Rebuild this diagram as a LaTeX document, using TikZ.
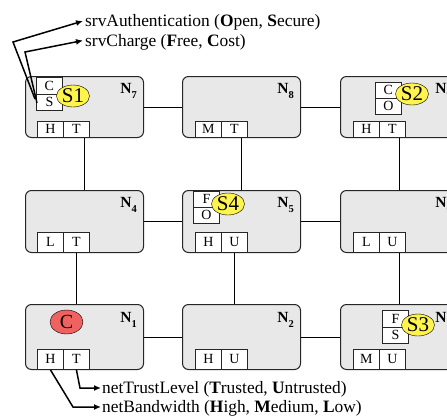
\documentclass[tikz,border=0pt]{standalone}
\usepackage{fontspec}
\setmainfont{Liberation Serif}
\usetikzlibrary{arrows.meta,shapes.geometric,calc}
\definecolor{nodegray}{HTML}{E8E8E8}
\definecolor{svcyellow}{HTML}{FFF34D}
\definecolor{clired}{HTML}{F0625F}
\begin{document}
\begin{tikzpicture}[x=1pt,y=-1pt,
 netnode/.style={draw=black!85, fill=nodegray, rounded corners=6pt, minimum width=118pt, inner sep=0pt, anchor=north west, line width=1pt},
 attr/.style={draw=black!85, fill=white, minimum width=26pt, inner sep=0pt, anchor=north west, font=\fontsize{14}{14}\selectfont, line width=0.8pt},
 svc/.style={ellipse, draw=black, fill=svcyellow, minimum width=33pt, minimum height=22pt, inner sep=0pt, font=\fontsize{21}{21}\selectfont},
 nlabel/.style={anchor=base east, inner sep=0pt, font=\fontsize{15.5}{15.5}\selectfont\bfseries},
 anno/.style={anchor=base west, inner sep=0pt, font=\fontsize{17.4}{17.4}\selectfont},
 link/.style={line width=0.9pt},
 arr/.style={line width=1.5pt, -{Latex[length=7pt,width=6pt]}}
]
\clip (0,0) rectangle (447,415);
% network nodes
\node[netnode, minimum height=61pt] (n7) at (25,76) {};
\node[netnode, minimum height=61pt] (n8) at (182,76) {};
\node[netnode, minimum height=61pt] (n9) at (340,76) {};
\node[netnode, minimum height=62pt] (n4) at (25,190) {};
\node[netnode, minimum height=62pt] (n5) at (182,190) {};
\node[netnode, minimum height=62pt] (n6) at (340,190) {};
\node[netnode, minimum height=65pt] (n1) at (25,304) {};
\node[netnode, minimum height=65pt] (n2) at (182,304) {};
\node[netnode, minimum height=65pt] (n3) at (340,304) {};
% links
\draw[link] (n7.east) -- (n8.west);
\draw[link] (n8.east) -- (n9.west);
\draw[link] (n4.east) -- (n5.west);
\draw[link] (n5.east) -- (n6.west);
\draw[link] (n1.east) -- (n2.west);
\draw[link] (n2.east) -- (n3.west);
% node labels
\node[nlabel] (l7) at ($(n7.north east)+(-7,17)$) {N\raisebox{-5pt}{\fontsize{10.5}{10.5}\selectfont 7}};
\node[nlabel] (l8) at ($(n8.north east)+(-7,17)$) {N\raisebox{-5pt}{\fontsize{10.5}{10.5}\selectfont 8}};
\node[nlabel] (l9) at ($(n9.north east)+(-7,17)$) {N\raisebox{-5pt}{\fontsize{10.5}{10.5}\selectfont 9}};
\node[nlabel] (l4) at ($(n4.north east)+(-7,17)$) {N\raisebox{-5pt}{\fontsize{10.5}{10.5}\selectfont 4}};
\node[nlabel] (l5) at ($(n5.north east)+(-7,17)$) {N\raisebox{-5pt}{\fontsize{10.5}{10.5}\selectfont 5}};
\node[nlabel] (l6) at ($(n6.north east)+(-7,17)$) {N\raisebox{-5pt}{\fontsize{10.5}{10.5}\selectfont 6}};
\node[nlabel] (l1) at ($(n1.north east)+(-7,18)$) {N\raisebox{-5pt}{\fontsize{10.5}{10.5}\selectfont 1}};
\node[nlabel] (l2) at ($(n2.north east)+(-7,18)$) {N\raisebox{-5pt}{\fontsize{10.5}{10.5}\selectfont 2}};
\node[nlabel] (l3) at ($(n3.north east)+(-7,18)$) {N\raisebox{-5pt}{\fontsize{10.5}{10.5}\selectfont 3}};
% bottom attribute boxes
\node[attr, minimum height=16pt] (n7h) at (37,121) {H};
\node[attr, minimum height=16pt] (n7t) at (63,121) {T};
\node[attr, minimum height=16pt] (n8m) at (195,121) {M};
\node[attr, minimum height=16pt] (n8t) at (221,121) {T};
\node[attr, minimum height=16pt] (n9h) at (353,121) {H};
\node[attr, minimum height=16pt] (n9t) at (379,121) {T};
\node[attr, minimum height=20pt] (n4l) at (37,232) {L};
\node[attr, minimum height=20pt] (n4t) at (63,232) {T};
\node[attr, minimum height=20pt] (n5h) at (195,232) {H};
\node[attr, minimum height=20pt] (n5u) at (221,232) {U};
\node[attr, minimum height=20pt] (n6l) at (353,232) {L};
\node[attr, minimum height=20pt] (n6u) at (379,232) {U};
\node[attr, minimum height=20pt] (n1h) at (37,349) {H};
\node[attr, minimum height=20pt] (n1t) at (63,349) {T};
\node[attr, minimum height=20pt] (n2h) at (195,349) {H};
\node[attr, minimum height=20pt] (n2u) at (221,349) {U};
\node[attr, minimum height=20pt] (n3m) at (353,349) {M};
\node[attr, minimum height=20pt] (n3u) at (379,349) {U};
% vertical links
\draw[link] (n7.south) -- (n4.north);
\draw[link] (n4t.south) -- (n4t.south |- n1.north);
\draw[link] (n8.south) -- (n5.north);
\draw[link] (n5u.south) -- (n5u.south |- n2.north);
\draw[link] (n9.south) -- (n6.north);
\draw[link] (n6.south) -- (n3.north);
% service attribute boxes
\node[attr, minimum height=16.5pt] (n7c) at (36,77) {C};
\node[attr, minimum height=16.5pt] (n7s) at (36,93.5) {S};
\node[attr, minimum height=16pt] (n9c) at (375,82) {C};
\node[attr, minimum height=16pt] (n9o) at (375,98) {O};
\node[attr, minimum height=16pt] (n5f) at (193,191) {F};
\node[attr, minimum height=16pt] (n5o) at (193,207) {O};
\node[attr, minimum height=16.5pt] (n3f) at (382,310) {F};
\node[attr, minimum height=16.5pt] (n3s) at (382,326.5) {S};
% services and client
\node[svc] (s1) at (73,96) {S1};
\node[svc] (s2) at (412,94) {S2};
\node[svc] (s4) at (228,204) {S4};
\node[svc] (s3) at (418,325) {S3};
\node[svc, fill=clired, minimum height=24pt, font=\fontsize{20}{20}\selectfont] (cl) at (66.5,322) {C};
% annotations
\node[anno] (t1) at (85,27) {srvAuthentication (\textbf{O}pen, \textbf{S}ecure)};
\node[anno] (t2) at (85,46.5) {srvCharge (\textbf{F}ree, \textbf{C}ost)};
\node[anno] (t3) at (102,393) {netTrustLevel (\textbf{T}rusted, \textbf{U}ntrusted)};
\node[anno] (t4) at (102,412.5) {netBandwidth (\textbf{H}igh, \textbf{M}edium, \textbf{L}ow)};
\coordinate (a1s) at (35,99);
\coordinate (a1b) at (13,42);
\coordinate (a2s) at (37,103);
\coordinate (a2b) at (25,52);
\coordinate (a3b) at (80,388);
\coordinate (a4b) at (73,407);
\draw[arr] (a1s) -- (a1b) -- ($(t1.base west)+(-2,-6)$);
\draw[arr] (a2s) -- (a2b) -- ($(t2.base west)+(-2,-6)$);
\draw[arr] (n1t.south) -- (a3b) -- ($(t3.base west)+(-1,-5)$);
\draw[arr] (n1h.south) -- (a4b) -- ($(t4.base west)+(-1,-5.5)$);
\end{tikzpicture}
\end{document}
